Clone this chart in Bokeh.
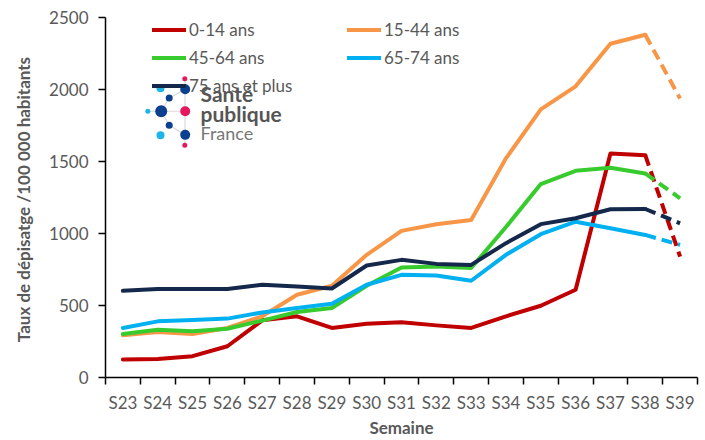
from bokeh.plotting import figure
from bokeh.models import (Range1d, FixedTicker, Legend, LegendItem)
from bokeh.core.properties import value
from bokeh.embed import file_html
from bokeh.resources import INLINE

# ---------------- data ----------------
weeks = ["S23", "S24", "S25", "S26", "S27", "S28", "S29", "S30", "S31",
         "S32", "S33", "S34", "S35", "S36", "S37", "S38", "S39"]
age_0_14 = [125, 129, 148, 217, 397, 425, 344, 374, 383, 362, 344, 425, 498, 609, 1556, 1544, 840]
age_15_44 = [293, 316, 302, 344, 425, 575, 637, 852, 1018, 1064, 1094, 1522, 1862, 2022, 2318, 2380, 1937]
age_45_64 = [302, 332, 321, 339, 395, 455, 483, 637, 764, 771, 760, 1045, 1343, 1435, 1456, 1417, 1244]
age_65_74 = [344, 390, 400, 409, 452, 483, 512, 644, 713, 708, 672, 852, 995, 1082, 1036, 990, 921]
age_75_plus = [602, 614, 614, 614, 644, 632, 618, 778, 817, 789, 782, 933, 1065, 1106, 1168, 1170, 1071]

series_names = ["0-14 ans", "15-44 ans", "45-64 ans", "65-74 ans", "75 ans et plus"]
series_values = [age_0_14, age_15_44, age_45_64, age_65_74, age_75_plus]
y_ticks = [0, 500, 1000, 1500, 2000, 2500]

# ---------------- styles ----------------
colors = ["#C00000", "#F79646", "#38CB2E", "#00B0F0", "#14284B"]
FONT = "Lato"
GREY = "#595959"

p = figure(width=705, height=440, output_backend="svg", toolbar_location=None,
           x_range=Range1d(-0.5, len(weeks) - 0.5), y_range=Range1d(0, 2500),
           min_border_left=105, min_border_right=8, min_border_top=17, min_border_bottom=62)
p.outline_line_color = None
p.grid.visible = False
p.background_fill_color = "white"

x = list(range(len(weeks)))
n_solid = len(weeks) - 1  # last segment (S38 -> S39) is provisional, dashed

solid_renderers = []
for vals, col in zip(series_values, colors):
    r = p.line(x[:n_solid], vals[:n_solid], line_color=col, line_width=4,
               line_join="round", line_cap="round")
    p.line(x[n_solid - 1:], vals[n_solid - 1:], line_color=col, line_width=4,
           line_dash="11 6", line_join="round")
    solid_renderers.append(r)

# ---------------- axes ----------------
xa = p.xaxis[0]
xa.ticker = FixedTicker(ticks=x, minor_ticks=[i - 0.5 for i in range(len(weeks) + 1)])
xa.major_label_overrides = {i: w for i, w in enumerate(weeks)}
xa.major_tick_out = 0
xa.major_tick_in = 0
xa.minor_tick_out = 7
xa.minor_tick_in = 0
xa.minor_tick_line_color = "black"
xa.minor_tick_line_width = 1.5
xa.axis_line_color = "black"
xa.axis_line_width = 1.5
xa.major_label_text_font = FONT
xa.major_label_text_font_size = "17px"
xa.major_label_text_color = GREY
xa.major_label_standoff = 7
xa.axis_label = "Semaine"
xa.axis_label_text_font = FONT
xa.axis_label_text_font_style = "bold"
xa.axis_label_text_font_size = "17px"
xa.axis_label_text_color = GREY
xa.axis_label_standoff = 1

ya = p.yaxis[0]
ya.ticker = FixedTicker(ticks=y_ticks)
ya.minor_tick_line_color = None
ya.major_tick_out = 7
ya.major_tick_in = 0
ya.major_tick_line_color = "black"
ya.major_tick_line_width = 1.5
ya.axis_line_color = "black"
ya.axis_line_width = 1.5
ya.major_label_text_font = FONT
ya.major_label_text_font_size = "17px"
ya.major_label_text_color = GREY
ya.major_label_standoff = 10
ya.axis_label = "Taux de dépisatge  /100 000 habitants"
ya.axis_label_text_font = FONT
ya.axis_label_text_font_style = "bold"
ya.axis_label_text_font_size = "17px"
ya.axis_label_text_color = GREY
ya.axis_label_standoff = 12

# ---------------- legend (two columns) ----------------
def make_legend(idx, loc):
    lg = Legend(items=[LegendItem(label=series_names[i], renderers=[solid_renderers[i]]) for i in idx],
                location=loc, orientation="vertical", padding=0, margin=0, spacing=7,
                glyph_width=34, glyph_height=21, label_height=21, label_standoff=3,
                label_text_font=FONT, label_text_font_size="17px", label_text_color=GREY,
                background_fill_alpha=0, border_line_alpha=0)
    p.add_layout(lg)

make_legend([0, 2, 4], (47, 281))
make_legend([1, 3], (242, 309))

# ---------------- logo (Santé publique France), in page pixel coordinates ----------------
p.extra_x_ranges = {"lx": Range1d(105, 697)}
p.extra_y_ranges = {"ly": Range1d(378, 17)}
kw = dict(x_range_name="lx", y_range_name="ly", level="overlay")

logo_seg_x0 = [184.5, 147, 160.7, 160.7, 168.7, 168.7]
logo_seg_y0 = [78, 111, 111, 111, 97.7, 125]
logo_seg_x1 = [184.5, 184.7, 168.7, 168.7, 184.7, 184.7]
logo_seg_y1 = [145, 111, 97.7, 125, 89, 134.7]
p.segment(logo_seg_x0, logo_seg_y0, logo_seg_x1, logo_seg_y1, line_color="#d9d9d9", line_width=1.2, **kw)

dot_x = [184.3, 184.7, 184.3, 160, 147.3, 160, 184.7, 168.7, 160.7, 168.7, 184.7]
dot_y = [78.3, 111, 145, 88, 111, 135, 89, 97.7, 111, 125, 134.7]
dot_s = [5, 10, 5, 8, 5, 8, 10, 7, 12, 7, 10]
dot_c = ["#E6175C", "#E6175C", "#E6175C", "#1EB4E8", "#1EB4E8", "#1EB4E8",
         "#0B3F8F", "#0B3F8F", "#0B3F8F", "#0B3F8F", "#0B3F8F"]
p.scatter(dot_x, dot_y, size=dot_s, fill_color=dot_c, line_color=None, **kw)

p.text([200, 200], [93, 113], text=["Santé", "publique"], text_font=value(FONT),
       text_font_style="bold", text_font_size="21px", text_color="#555555",
       text_baseline="middle", **kw)
p.text([200], [133], text=["France"], text_font=value(FONT), text_font_size="18px",
       text_color="#777777", text_baseline="middle", **kw)

open("out.html", "w").write(file_html(p, INLINE))
